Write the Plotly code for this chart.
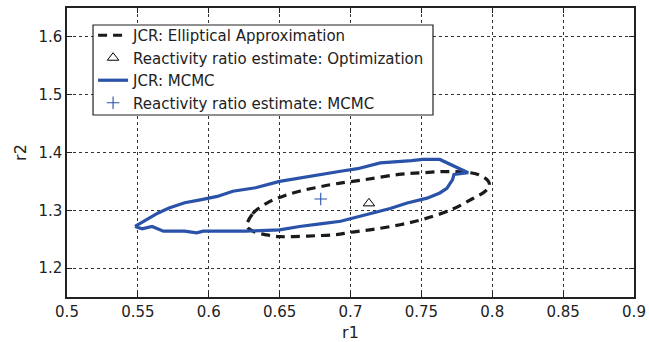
import plotly.graph_objects as go

# Elliptical JCR boundary
ellipse_r1 = [0.627, 0.631, 0.641, 0.652, 0.664, 0.677, 0.690, 0.710, 0.734, 0.751,
              0.766, 0.780, 0.790, 0.797, 0.798, 0.795, 0.786, 0.772, 0.752, 0.735,
              0.716, 0.700, 0.690, 0.675, 0.660, 0.650, 0.641, 0.632, 0.627]
ellipse_r2 = [1.272, 1.294, 1.3125, 1.324, 1.333, 1.340, 1.346, 1.353, 1.362, 1.365,
              1.367, 1.366, 1.362, 1.351, 1.343, 1.333, 1.320, 1.302, 1.285, 1.275,
              1.267, 1.262, 1.258, 1.256, 1.2545, 1.2545, 1.2574, 1.263, 1.272]

# MCMC JCR boundary
mcmc_r1 = [0.548, 0.556, 0.564, 0.572, 0.583, 0.594, 0.606, 0.617, 0.633, 0.650,
           0.664, 0.673, 0.693, 0.705, 0.721, 0.743, 0.751, 0.763, 0.774, 0.783,
           0.773, 0.772, 0.768, 0.763, 0.754, 0.740, 0.728, 0.716, 0.704, 0.693,
           0.680, 0.664, 0.650, 0.626, 0.596, 0.5915, 0.583, 0.568, 0.560, 0.553, 0.548]
mcmc_r2 = [1.272, 1.284, 1.295, 1.304, 1.313, 1.318, 1.324, 1.333, 1.339, 1.350,
           1.356, 1.360, 1.3675, 1.372, 1.382, 1.386, 1.388, 1.388, 1.376, 1.365,
           1.362, 1.353, 1.338, 1.330, 1.321, 1.3125, 1.303, 1.295, 1.288, 1.281,
           1.277, 1.272, 1.266, 1.264, 1.264, 1.261, 1.264, 1.264, 1.272, 1.268, 1.272]

# Point estimates
opt_r1 = [0.713]
opt_r2 = [1.312]
mcmc_est_r1 = [0.679]
mcmc_est_r2 = [1.3195]

x_ticks = [0.5, 0.55, 0.6, 0.65, 0.7, 0.75, 0.8, 0.85, 0.9]
x_tick_labels = ["0.5", "0.55", "0.6", "0.65", "0.7", "0.75", "0.8", "0.85", "0.9"]
y_ticks = [1.2, 1.3, 1.4, 1.5, 1.6]
y_tick_labels = ["1.2", "1.3", "1.4", "1.5", "1.6"]

FONT = "DejaVu Sans, Liberation Sans, sans-serif"
BLUE = "#2a52a8"

fig = go.Figure()
fig.add_trace(go.Scatter(
    x=ellipse_r1, y=ellipse_r2, mode="lines",
    line=dict(color="#1a1a1a", width=3.2, dash="9px,6px", shape="spline", smoothing=1.0),
    name="JCR: Elliptical Approximation"))
fig.add_trace(go.Scatter(
    x=opt_r1, y=opt_r2, mode="markers",
    marker=dict(symbol="triangle-up-open", size=10, color="black", line=dict(width=1)),
    name="Reactivity ratio estimate: Optimization"))
fig.add_trace(go.Scatter(
    x=mcmc_r1, y=mcmc_r2, mode="lines",
    line=dict(color=BLUE, width=3.2),
    name="JCR: MCMC"))
fig.add_trace(go.Scatter(
    x=mcmc_est_r1, y=mcmc_est_r2, mode="markers",
    marker=dict(symbol="cross-thin-open", size=9, color=BLUE, line=dict(width=1.1, color=BLUE)),
    name="Reactivity ratio estimate: MCMC"))

axis_common = dict(
    showline=True, linecolor="#222", linewidth=1.5, mirror="allticks",
    ticks="inside", ticklen=5, tickcolor="#222", tickwidth=1,
    showgrid=True, gridcolor="#333", gridwidth=1, griddash="dot",
    zeroline=False, automargin=False,
    tickfont=dict(family=FONT, size=15, color="#222"),
)

fig.update_xaxes(range=[0.5, 0.9], tickmode="array", tickvals=x_ticks, ticktext=x_tick_labels,
                 title=dict(text="r1", font=dict(family=FONT, size=16, color="#222"), standoff=9),
                 **axis_common)
fig.update_yaxes(range=[1.15, 1.65], tickmode="array", tickvals=y_ticks, ticktext=y_tick_labels,
                 title=dict(text="r2", font=dict(family=FONT, size=16, color="#222"), standoff=8),
                 **axis_common)

# Legend frame drawn as a shape so its box matches the reference exactly
fig.add_shape(type="rect", xref="paper", yref="paper",
              x0=0.0459, x1=0.6455, y0=0.6298, y1=0.9412,
              line=dict(color="#222", width=1.2), fillcolor="white", layer="above")

fig.update_layout(
    width=649, height=342,
    margin=dict(l=67, r=15, t=8, b=45),
    plot_bgcolor="white", paper_bgcolor="white",
    font=dict(family=FONT, color="#222"),
    showlegend=True,
    legend=dict(x=0.046, y=0.962, xanchor="left", yanchor="top",
                bgcolor="rgba(0,0,0,0)", borderwidth=0,
                font=dict(family=FONT, size=15, color="#222"),
                tracegroupgap=0, itemwidth=30),
)

fig.write_html("out.html",
               config={"displayModeBar": False},
               post_script="document.body.style.margin='0';document.body.style.overflow='hidden';")
